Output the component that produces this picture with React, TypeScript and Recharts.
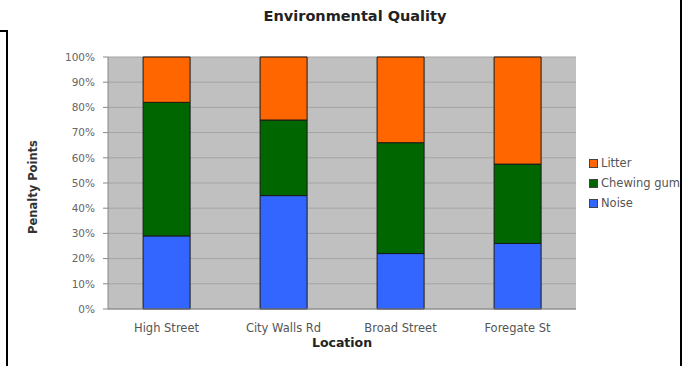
import React from 'react';
import { BarChart, Bar, XAxis, YAxis, CartesianGrid } from 'recharts';

const locations = ['High Street', 'City Walls Rd', 'Broad Street', 'Foregate St'];
const noise = [29, 45, 22, 26];
const chewingGum = [53, 30, 44, 31.5];
const litter = [18, 25, 34, 42.5];
const yTicks = [0, 10, 20, 30, 40, 50, 60, 70, 80, 90, 100];

const seriesInfo = [
  { key: 'litter', name: 'Litter', color: '#ff6600' },
  { key: 'chewing', name: 'Chewing gum', color: '#006600' },
  { key: 'noise', name: 'Noise', color: '#3366ff' },
];

const data = locations.map((loc, i) => ({
  loc,
  noise: noise[i],
  chewing: chewingGum[i],
  litter: litter[i],
}));

const FONT = '"DejaVu Sans", Verdana, sans-serif';

export default function App() {
  return (
    <div style={{ position: 'absolute', left: 0, top: 0, width: 684, height: 366, overflow: 'hidden', background: '#fff', fontFamily: FONT }}>
      <div style={{ position: 'absolute', left: 0, top: 8, width: 710, textAlign: 'center', fontSize: 14.5, fontWeight: 'bold', color: '#222' }}>
        Environmental Quality
      </div>
      <BarChart
        width={684}
        height={366}
        data={data}
        margin={{ top: 57, right: 108, bottom: 27, left: 28 }}
        barCategoryGap="30%"
      >
        <CartesianGrid vertical={false} fill="#c0c0c0" stroke="#a4a4a4" fillOpacity={1} />
        <XAxis
          dataKey="loc"
          height={30}
          tickLine={false}
          axisLine={{ stroke: '#888' }}
          tickMargin={9}
          tick={{ fontSize: 11.5, fill: '#555', fontFamily: FONT }}
          interval={0}
          label={{ value: 'Location', position: 'insideBottom', offset: -8, style: { fontSize: 12.5, fontWeight: 'bold', fill: '#222', fontFamily: FONT } }}
        />
        <YAxis
          width={80}
          domain={[0, 100]}
          ticks={yTicks}
          tickFormatter={(v: number) => `${v}%`}
          tickSize={5}
          tickMargin={8}
          tickLine={{ stroke: '#888' }}
          axisLine={{ stroke: '#888' }}
          tick={{ fontSize: 10.5, fill: '#666', fontFamily: FONT }}
          label={{ value: 'Penalty Points', angle: -90, position: 'insideLeft', offset: 5, dy: 4, style: { fontSize: 11.5, fontWeight: 'bold', fill: '#333', fontFamily: FONT, textAnchor: 'middle' } }}
        />
        <YAxis yAxisId="r" orientation="right" width={0} type="number" domain={[0, 1]} tick={false} tickLine={false} axisLine={{ stroke: '#999' }} />
        <Bar dataKey="noise" name="Noise" stackId="a" fill="#3366ff" stroke="#1a1a1a" strokeWidth={1} isAnimationActive={false} />
        <Bar dataKey="chewing" name="Chewing gum" stackId="a" fill="#006600" stroke="#1a1a1a" strokeWidth={1} isAnimationActive={false} />
        <Bar dataKey="litter" name="Litter" stackId="a" fill="#ff6600" stroke="#1a1a1a" strokeWidth={1} isAnimationActive={false} />
      </BarChart>
      <div style={{ position: 'absolute', left: 589, top: 153, width: 91, overflow: 'hidden', whiteSpace: 'nowrap' }}>
        {seriesInfo.map((s) => (
          <div key={s.key} style={{ display: 'flex', alignItems: 'center', height: 20, fontSize: 11.5, color: '#555' }}>
            <span style={{ display: 'inline-block', flex: 'none', width: 7, height: 7, background: s.color, border: '1px solid #444', marginRight: 3 }} />
            <span>{s.name}</span>
          </div>
        ))}
      </div>
      <div style={{ position: 'absolute', left: 0, top: 30, width: 8, height: 2, background: '#000' }} />
      <div style={{ position: 'absolute', left: 6, top: 30, width: 2, height: 340, background: '#000' }} />
      <div style={{ position: 'absolute', left: 680, top: 0, width: 2, height: 366, background: '#000' }} />
    </div>
  );
}
